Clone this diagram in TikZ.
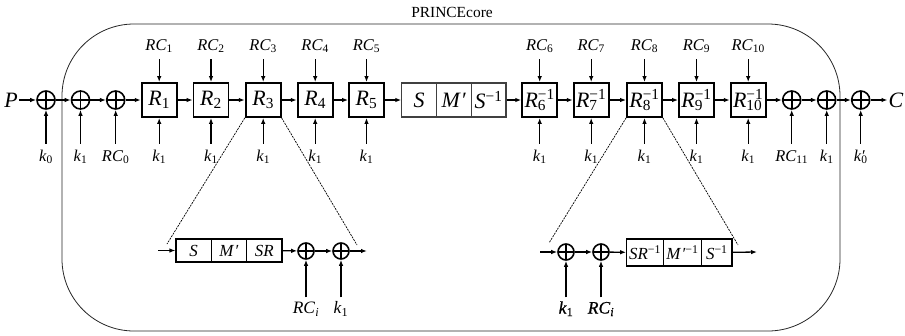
\documentclass[tikz,border=0pt]{standalone}
\usepackage{fontspec}
\setmainfont{Liberation Serif}
\newfontfamily\heavyfont[UprightFeatures={FakeBold=0.8}, ItalicFont={Liberation Serif Italic}, ItalicFeatures={FakeBold=0.8}]{Liberation Serif}
\usetikzlibrary{arrows.meta}
\newcommand\supsubx[2]{\ooalign{\textsuperscript{#1}\cr\textsubscript{#2}\cr}}
\newcommand\Rin[1]{\textit{R}\supsubx{−1}{#1}}
\newcommand\Rn[1]{\textit{R}\textsubscript{#1}}
\newcommand\RC[1]{\textit{RC}\textsubscript{#1}}
\newcommand\kk[1]{\textit{k}\textsubscript{#1}}
\begin{document}
\begin{tikzpicture}[x=1bp,y=-1bp,
  arr/.style={-{Latex[length=6bp,width=4.5bp]}, line width=1.3bp},
  rbox/.style={draw, line width=1.8bp, minimum width=35bp, minimum height=34bp, inner sep=0, font=\fontsize{22}{24}\selectfont},
  cellA/.style={draw=black!75, line width=1.1bp, minimum width=34.7bp, minimum height=34bp, inner sep=0, font=\fontsize{22}{24}\selectfont},
  cellB/.style={draw, line width=1.2bp, inner sep=0, font=\fontsize{17}{18}\selectfont},
  xor/.style={circle, draw, line width=1.6bp, minimum size=#1, inner sep=0,
    path picture={\draw[line width=1.6bp] (path picture bounding box.north) -- (path picture bounding box.south)
      (path picture bounding box.west) -- (path picture bounding box.east);}},
  xor/.default=18bp,
  lab/.style={inner sep=0, text height=10.5bp, text depth=4bp, font=\fontsize{16.5}{17}\selectfont},
  labB/.style={inner sep=0, text height=11bp, text depth=4bp, font=\fontsize{17.5}{18}\selectfont},
  big/.style={inner sep=1bp, font=\fontsize{22}{24}\selectfont\itshape},
  zoomline/.style={line width=0.7bp, dash pattern=on 2bp off 1bp},
  border/.style={line width=0.8bp, draw=black!85, rounded corners=72bp}
]
\useasboundingbox (0,0) rectangle (905,335);
% frame and title
\draw[border] (62,24) rectangle (840,331);
\node[font=\fontsize{15.5}{16}\selectfont, inner sep=0] (title) at (452,12) {PRINCEcore};

% input side
\node[big] (P) at (11,100) {P};
\node[xor] (x0) at (46,100) {};
\node[xor] (x1) at (80.5,100) {};
\node[xor] (x2) at (115.7,100) {};
\node[lab] (bx0) at (46,158) {\kk{0}};
\node[lab] (bx1) at (80.5,158) {\kk{1}};
\node[lab] (bx2) at (115.7,158) {\RC{0}};
\draw[arr] (P) -- (x0);
\draw[arr] (x0) -- (x1);
\draw[arr] (x1) -- (x2);
\foreach \n in {0,1,2} \draw[arr, shorten <=7bp] (bx\n.north) -- (x\n.south);

% forward rounds
\foreach \i/\x in {1/159.2,2/211,3/263.2,4/315.2,5/366.5} {
  \node[rbox] (r\i) at (\x,100) {\Rn{\i}};
  \node[lab] (t\i) at (\x,47) {\RC{\i}};
  \node[lab] (b\i) at (\x,158) {\kk{1}};
  \draw[arr, shorten <=5bp] (t\i.south) -- (r\i.north);
  \draw[arr, shorten <=7bp] (b\i.north) -- (r\i.south);
}
% middle
\node[cellA] (m1) at (419.2,100) {\textit{S}};
\node[cellA] (m2) at (453.9,100) {\textit{M\kern1bp′}};
\node[cellA] (m3) at (488.6,100) {\textit{S}\textsuperscript{−1}};
% inverse rounds
\foreach \i/\x in {6/539.7,7/591.2,8/644.5,9/696.5,10/748.2} {
  \node[rbox] (r\i) at (\x,100) {\Rin{\i}};
  \node[lab] (t\i) at (\x,47) {\RC{\i}};
  \node[lab] (b\i) at (\x,158) {\kk{1}};
  \draw[arr, shorten <=5bp] (t\i.south) -- (r\i.north);
  \draw[arr, shorten <=7bp] (b\i.north) -- (r\i.south);
}
\draw[arr] (x2) -- (r1);
\foreach \a/\b in {1/2,2/3,3/4,4/5,6/7,7/8,8/9,9/10} \draw[arr] (r\a) -- (r\b);
\draw[arr] (r5) -- (m1);
\draw[arr] (m3) -- (r6);

% output side
\node[xor] (x3) at (791.7,100) {};
\node[xor] (x4) at (826.7,100) {};
\node[xor] (x5) at (860.7,100) {};
\node[big] (C) at (896,100) {C};
\node[lab] (bx3) at (791.7,158) {\RC{11}};
\node[lab] (bx4) at (826.7,158) {\kk{1}};
\node[lab] (bx5) at (860.7,158) {\textit{k}\ooalign{\kern0.8bp′\cr\textsubscript{0}\cr}};
\draw[arr] (r10) -- (x3);
\draw[arr] (x3) -- (x4);
\draw[arr] (x4) -- (x5);
\draw[arr] (x5) -- (C);
\foreach \n in {3,4,5} \draw[arr, shorten <=7bp] (bx\n.north) -- (x\n.south);

% lower-left detail
\coordinate (lin) at (158,250.5);
\coordinate (lout) at (367,251);
\node[cellB, minimum width=35.3bp, minimum height=23bp] (la) at (193.65,250.5) {\textit{S}};
\node[cellB, minimum width=35.3bp, minimum height=23bp] (lb) at (228.95,250.5) {\textit{M\kern1bp′}};
\node[cellB, minimum width=35.3bp, minimum height=23bp] (lc) at (264.25,250.5) {\textit{SR}};
\node[xor=16bp] (lx1) at (306,251) {};
\node[xor=16bp] (lx2) at (341,251) {};
\node[labB] (lrc) at (306,310) {\RC{\textit{i}}};
\node[labB] (lk) at (341,310) {\kk{1}};
\draw[arr] (lin) -- (la);
\draw[arr] (lc) -- (lx1);
\draw[arr] (lx1) -- (lx2);
\draw[arr] (lx2) -- (lout);
\draw[arr, shorten <=5bp] (lrc.north) -- (lx1.south);
\draw[arr, shorten <=5bp] (lk.north) -- (lx2.south);

% lower-right detail
\coordinate (rin) at (540,252);
\coordinate (rout) at (757,252);
\node[xor=16bp] (rx1) at (566,252) {};
\node[xor=16bp] (rx2) at (601,252) {};
\node[cellB, minimum width=36.6bp, minimum height=27bp] (ra) at (645,252.5) {\textit{SR}\textsuperscript{−1}};
\node[cellB, minimum width=38.4bp, minimum height=27bp] (rb) at (682.5,252.5) {\textit{M\kern1bp′}\textsuperscript{−1}};
\node[cellB, minimum width=30.3bp, minimum height=27bp] (rc) at (716.85,252.5) {\textit{S}\textsuperscript{−1}};
\node[labB] (rk) at (566,310) {\heavyfont\kk{1}};
\node[labB] (rrc) at (601,310) {\heavyfont\RC{\textit{i}}};
\draw[arr] (rin) -- (rx1);
\draw[arr] (rx1) -- (rx2);
\draw[arr] (rx2) -- (ra);
\draw[arr] (rc) -- (rout);
\draw[arr, line width=1.6bp, shorten <=5bp] (rk.north) -- (rx1.south);
\draw[arr, line width=1.6bp, shorten <=5bp] (rrc.north) -- (rx2.south);

% zoom lines
\coordinate (z1) at (167,244);
\coordinate (z2) at (357,245);
\coordinate (z3) at (549,243);
\coordinate (z4) at (738,245);
\draw[zoomline] (r3.south west) -- (z1);
\draw[zoomline] (r3.south east) -- (z2);
\draw[zoomline] (r8.south west) -- (z3);
\draw[zoomline] (r8.south east) -- (z4);
\end{tikzpicture}
\end{document}
